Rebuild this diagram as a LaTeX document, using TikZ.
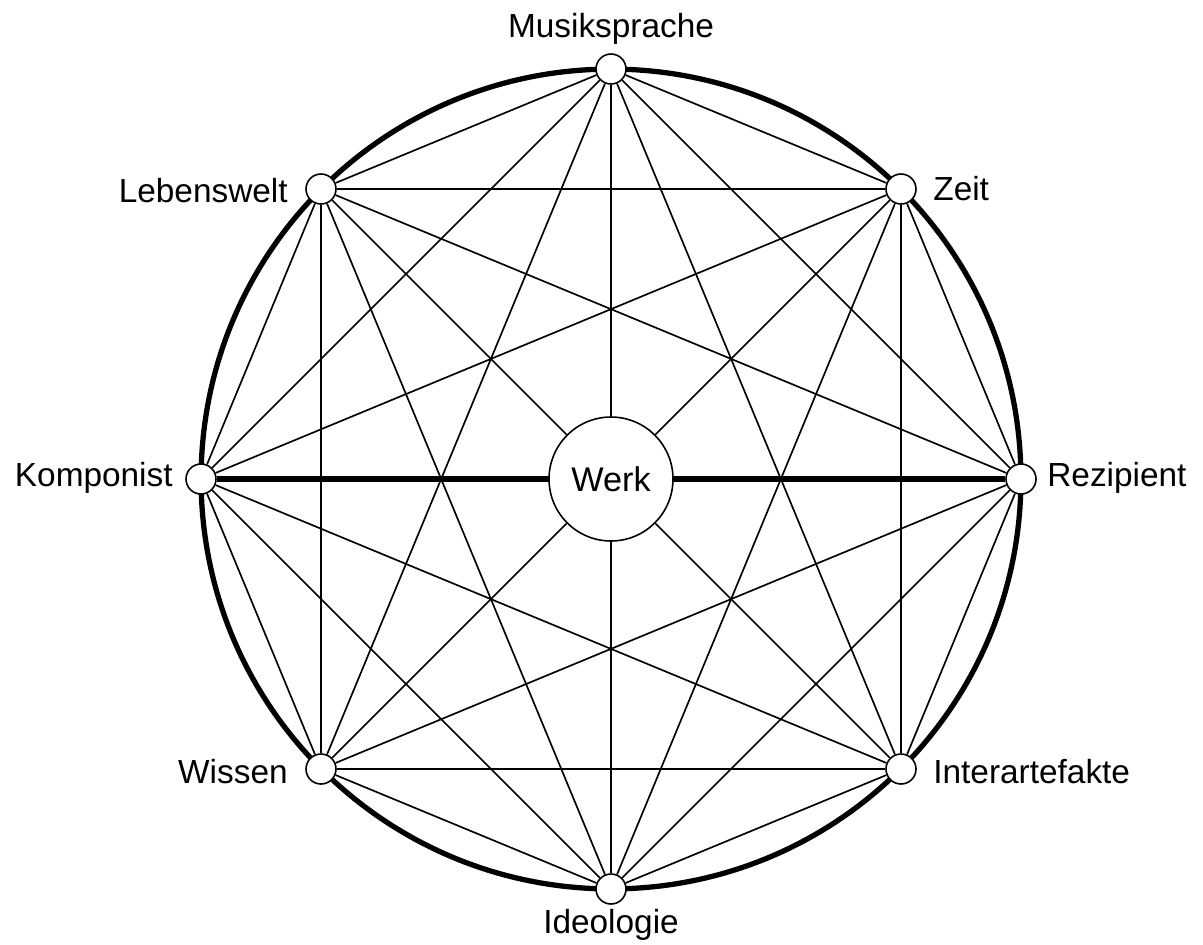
\documentclass[tikz,border=0pt]{standalone}
\usepackage{fontspec}
\setmainfont{Liberation Sans}
\begin{document}
\begin{tikzpicture}[x=0.02cm,y=-0.02cm,
  vert/.style={circle,draw,fill=white,line width=0.9pt,minimum size=0.6cm,inner sep=0pt},
  werk/.style={circle,draw,fill=white,line width=0.9pt,minimum size=2.48cm,inner sep=0pt,font=\fontsize{19.5}{24}\selectfont},
  lab/.style={font=\fontsize{19}{23}\selectfont,inner sep=0pt},
  edge/.style={line width=0.95pt},
  thickedge/.style={line width=3pt},
  rim/.style={line width=3pt}]
\useasboundingbox (0,0) rectangle (1203,944);
\coordinate (c) at (611,479);
\draw[rim] (c) circle (8.2cm);
\node[vert] (n0) at (611,69) {};
\node[vert] (n1) at (901,189) {};
\node[vert] (n2) at (1021,479) {};
\node[vert] (n3) at (901,769) {};
\node[vert] (n4) at (611,889) {};
\node[vert] (n5) at (321,769) {};
\node[vert] (n6) at (201,479) {};
\node[vert] (n7) at (321,189) {};
\foreach \i in {0,...,7}{
  \foreach \j in {0,...,7}{
    \ifnum\i<\j
      \ifnum\i=2 \ifnum\j=6 \else \draw[edge] (n\i) -- (n\j); \fi
      \else \draw[edge] (n\i) -- (n\j); \fi
    \fi
  }
}
\draw[thickedge] (n6) -- (n2);
\node[werk] (w) at (c) {Werk};
\node[lab,anchor=base] (l0) at (611,37) {Musiksprache};
\node[lab,anchor=base west] (l1) at (933,200) {Zeit};
\node[lab,anchor=base west] (l2) at (1047,486) {Rezipient};
\node[lab,anchor=base west] (l3) at (933,783) {Interartefakte};
\node[lab,anchor=base] (l4) at (611,933) {Ideologie};
\node[lab,anchor=base east] (l5) at (288,783) {Wissen};
\node[lab,anchor=base east] (l6) at (173,486) {Komponist};
\node[lab,anchor=base east] (l7) at (288,202) {Lebenswelt};
\end{tikzpicture}
\end{document}
